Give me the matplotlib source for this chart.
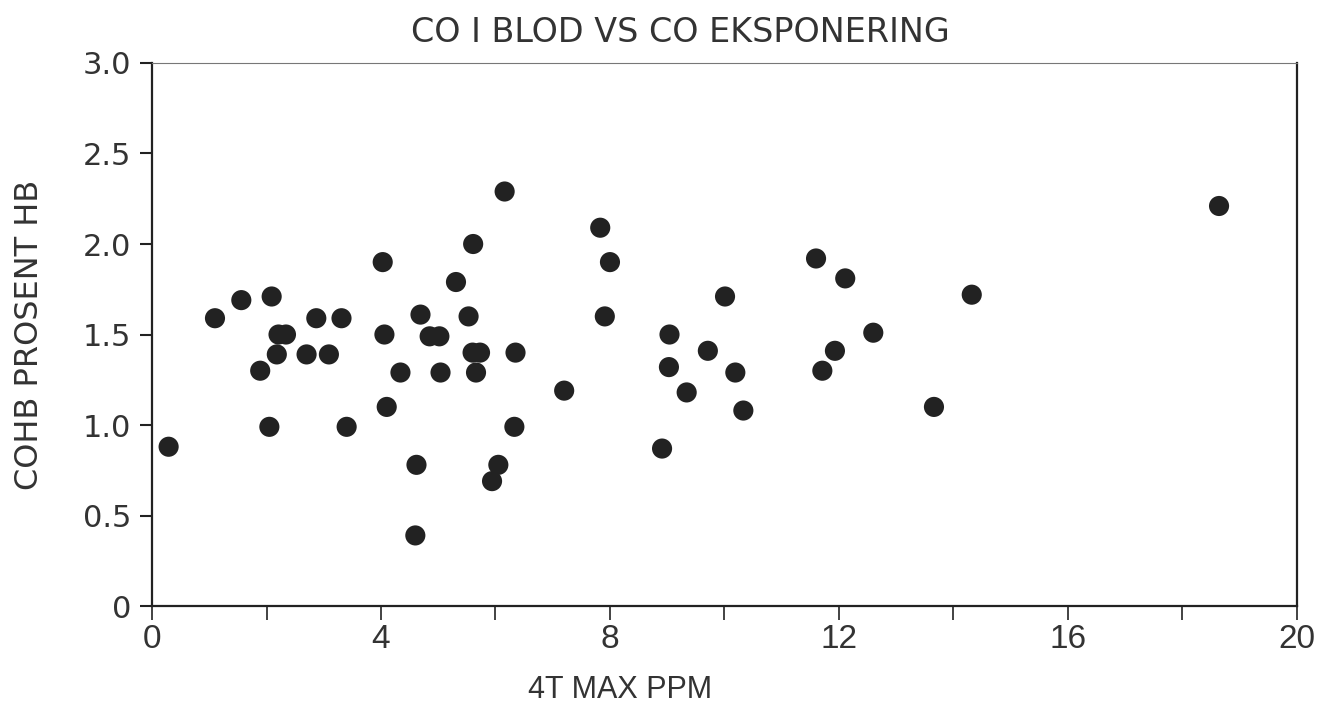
import matplotlib.pyplot as plt
import numpy as np

# 4T max ppm (x) og COHB prosent HB (y)
ppm = [0.29, 1.10, 1.56, 2.09, 1.89, 2.05, 2.18, 2.21, 2.34, 2.70,
       2.87, 3.09, 3.31, 3.40, 4.03, 4.06, 4.10, 4.34, 4.60, 4.62,
       4.69, 4.85, 5.02, 5.04, 5.31, 5.53, 5.60, 5.61, 5.66, 5.73,
       5.94, 6.05, 6.16, 6.33, 6.35, 7.20, 7.83, 7.91, 8.00, 8.91,
       9.03, 9.04, 9.34, 9.71, 10.01, 10.19, 10.33, 11.60, 11.71, 11.93,
       12.11, 12.60, 13.66, 14.32, 18.64]
cohb = [0.88, 1.59, 1.69, 1.71, 1.30, 0.99, 1.39, 1.50, 1.50, 1.39,
        1.59, 1.39, 1.59, 0.99, 1.90, 1.50, 1.10, 1.29, 0.39, 0.78,
        1.61, 1.49, 1.49, 1.29, 1.79, 1.60, 1.40, 2.00, 1.29, 1.40,
        0.69, 0.78, 2.29, 0.99, 1.40, 1.19, 2.09, 1.60, 1.90, 0.87,
        1.32, 1.50, 1.18, 1.41, 1.71, 1.29, 1.08, 1.92, 1.30, 1.41,
        1.81, 1.51, 1.10, 1.72, 2.21]

y_ticks = [0, 0.5, 1.0, 1.5, 2.0, 2.5, 3.0]
y_labels = ["0", "0.5", "1.0", "1.5", "2.0", "2.5", "3.0"]
x_major = [0, 4, 8, 12, 16, 20]
x_minor = [2, 6, 10, 14, 18]

ink = "#222222"
txt = "#333333"
narrow = ["Liberation Sans Narrow", "Liberation Sans", "DejaVu Sans"]
wide = ["DejaVu Sans"]
plt.rcParams["font.family"] = ["Liberation Sans", "DejaVu Sans"]

fig = plt.figure(figsize=(13.37, 7.15), dpi=100)
ax = fig.add_axes([0.1137, 0.1524, 0.8563, 0.7595])

ax.scatter(ppm, cohb, s=210, color=ink, edgecolors="none", zorder=3)

ax.set_xlim(0, 20)
ax.set_ylim(0, 3.0)

ax.set_yticks(y_ticks)
ax.set_yticklabels(y_labels, fontsize=22, color=txt, family=wide)
ax.set_xticks(x_major)
ax.set_xticklabels([str(v) for v in x_major], fontsize=24, color=txt,
                   family=narrow)
ax.set_xticks(x_minor, minor=True)

ax.tick_params(axis="y", direction="out", length=9, width=1.5, color=ink, pad=6)
ax.tick_params(axis="x", which="both", direction="out", length=10, width=1.2,
               color=ink, pad=3)

for side in ["left", "bottom", "right"]:
    ax.spines[side].set_linewidth(1.6)
    ax.spines[side].set_color(ink)
ax.spines["top"].set_linewidth(0.8)
ax.spines["top"].set_color("#777777")

fig.text(0.509, 0.955, "CO I BLOD VS CO EKSPONERING", ha="center", va="center",
         fontsize=24, color=txt, family=wide)
fig.text(0.022, 0.531, "COHB PROSENT HB", rotation=90, ha="center",
         va="center", fontsize=23, color=txt, family=wide)
fig.text(0.464, 0.035, "4T MAX PPM", ha="center", va="center", fontsize=22,
         color=txt, family=narrow)

fig.savefig("out.png", dpi=100)
